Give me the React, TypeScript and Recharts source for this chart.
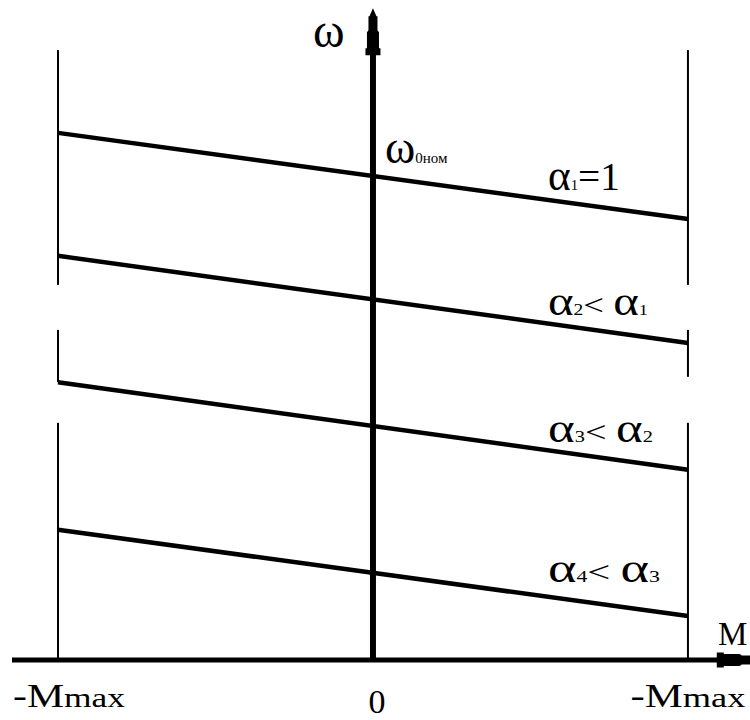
import React from 'react';
import { LineChart, Line, XAxis, YAxis, ReferenceLine, ReferenceDot } from 'recharts';

// Relative torque M / Mmax at the two limit lines
const torque = [-1, 1];
// Relative speed ω / ω0ном of each mechanical characteristic at those limits
const omegaA1 = [1.089, 0.911];
const omegaA2 = [0.835, 0.655];
const omegaA3 = [0.574, 0.393];
const omegaA4 = [0.269, 0.091];

const seriesKeys = ['a1', 'a2', 'a3', 'a4'];
const seriesValues = [omegaA1, omegaA2, omegaA3, omegaA4];

// Rich labels: [text, font size]
type Part = [string, number];
const seriesLabels: Part[][] = [
  [['α', 44], ['1', 15], ['=1', 40]],
  [['α', 40], ['2', 16], ['< ', 30], ['α', 40], ['1', 15]],
  [['α', 40], ['3', 16], ['< ', 30], ['α', 40], ['2', 16]],
  [['α', 40], ['4', 16], ['< ', 30], ['α', 40], ['3', 16]],
];
const seriesLabelWidth = [72, 100, 105, 112];
const seriesLabelLift = [10, 9, 9, 15];

const tickValues = [-1, 0, 1];
const tickLabels: Part[][] = [
  [['-M', 33], ['max', 28]],
  [['0', 34]],
  [['-M', 33], ['max', 28]],
];

const axisTitleY: Part[] = [['ω', 48]];
const axisTitleX: Part[] = [['M', 33]];
const nominalLabel: Part[] = [['ω', 46], ['0ном', 15]];

// Visible spans (ω / ω0ном) of the ±Mmax limit lines
const leftLimitSpans = [[0, 0.49], [0.574, 0.682], [0.775, 1.26]];
const rightLimitSpans = [[0, 0.49], [0.585, 0.682], [0.775, 1.26]];

const X_DOMAIN: [number, number] = [-1.146, 1.197];
const Y_DOMAIN: [number, number] = [0, 1.347];
const SERIF = "'Liberation Serif', 'Times New Roman', serif";

const rows = torque.map((m, i) => {
  const r: Record<string, number> = { m };
  seriesKeys.forEach((k, s) => (r[k] = seriesValues[s][i]));
  return r;
});

const valueAt = (vals: number[], m: number) =>
  vals[0] + ((vals[1] - vals[0]) * (m - torque[0])) / (torque[1] - torque[0]);

const Rich = ({ x, y, parts, anchor = 'start', width }: { x: number; y: number; parts: Part[]; anchor?: string; width?: number }) => (
  <text
    x={x}
    y={y}
    fill="#000"
    fontFamily={SERIF}
    textAnchor={anchor as any}
    textLength={width}
    lengthAdjust={width ? 'spacingAndGlyphs' : undefined}
  >
    {parts.map(([t, s], i) => (
      <tspan key={i} fontSize={s}>
        {t}
      </tspan>
    ))}
  </text>
);

const tickShift = [11, 4, 0];
const tickWidth = [112, undefined, 115];
const tickBaseline = [47, 53, 47];

const MTick = (props: any) => {
  const { x, y, payload } = props;
  const i = tickValues.indexOf(payload.value);
  if (i < 0) return null;
  return <Rich x={x + tickShift[i]} y={y + tickBaseline[i]} parts={tickLabels[i]} anchor="middle" width={tickWidth[i]} />;
};

const labelM = 0.562;

export default function App() {
  return (
    <div style={{ position: 'absolute', left: 0, top: 0, background: '#fff' }}>
      <svg width={0} height={0} style={{ position: 'absolute' }}>
        <defs>
          <marker id="axisArrow" markerUnits="userSpaceOnUse" orient="auto" refX={-10} refY={0} markerWidth={60} markerHeight={20} overflow="visible">
            <path
              d="M0,0 L-8,-3.5 L-8,-4.5 L-22,-4.5 L-24,-6 L-40,-6 L-40,-7.5 L-47,-7.5 L-47,7.5 L-40,7.5 L-40,6 L-24,6 L-22,4.5 L-8,4.5 L-8,3.5 Z"
              fill="#000"
            />
          </marker>
        </defs>
      </svg>
      <LineChart width={750} height={720} data={rows} margin={{ top: 8, right: 0, bottom: 0, left: 12 }}>
        <XAxis
          dataKey="m"
          type="number"
          domain={X_DOMAIN}
          allowDataOverflow
          ticks={tickValues}
          tick={<MTick />}
          tickLine={false}
          axisLine={false}
          tickSize={0}
          tickMargin={0}
          height={60}
          interval={0}
        />
        <YAxis type="number" domain={Y_DOMAIN} allowDataOverflow hide />

        {leftLimitSpans.map(([a, b], i) => (
          <ReferenceLine key={'l' + i} segment={[{ x: -1, y: a }, { x: -1, y: b }]} stroke="#000" strokeWidth={2} ifOverflow="visible" />
        ))}
        {rightLimitSpans.map(([a, b], i) => (
          <ReferenceLine key={'r' + i} segment={[{ x: 1, y: a }, { x: 1, y: b }]} stroke="#000" strokeWidth={2} ifOverflow="visible" />
        ))}

        {/* M axis */}
        <ReferenceLine
          segment={[{ x: X_DOMAIN[0], y: 0 }, { x: 1.209, y: 0 }]}
          stroke="#000"
          strokeWidth={5}
          markerEnd="url(#axisArrow)"
          ifOverflow="visible"
        />
        {/* ω axis */}
        <ReferenceLine
          segment={[{ x: 0, y: 0 }, { x: 0, y: 1.326 }]}
          stroke="#000"
          strokeWidth={6}
          markerEnd="url(#axisArrow)"
          ifOverflow="visible"
        />

        {seriesKeys.map((k) => (
          <Line key={k} dataKey={k} stroke="#000" strokeWidth={4.5} dot={false} activeDot={false} isAnimationActive={false} type="linear" />
        ))}

        {seriesKeys.map((k, s) => (
          <ReferenceDot
            key={'lab' + k}
            x={labelM}
            y={valueAt(seriesValues[s], labelM)}
            r={0}
            ifOverflow="visible"
            shape={(p: any) => (
              <Rich x={p.cx - 2} y={p.cy - seriesLabelLift[s]} parts={seriesLabels[s]} width={seriesLabelWidth[s]} />
            )}
          />
        ))}

        <ReferenceDot
          x={0}
          y={valueAt(omegaA1, 0)}
          r={0}
          ifOverflow="visible"
          shape={(p: any) => <Rich x={p.cx + 12} y={p.cy - 13} parts={nominalLabel} />}
        />
        <ReferenceDot
          x={0}
          y={Y_DOMAIN[1]}
          r={0}
          ifOverflow="visible"
          shape={(p: any) => <Rich x={p.cx - 60} y={p.cy + 39} parts={axisTitleY} />}
        />
        <ReferenceDot
          x={X_DOMAIN[1]}
          y={0}
          r={0}
          ifOverflow="visible"
          shape={(p: any) => <Rich x={p.cx - 32} y={p.cy - 15} parts={axisTitleX} />}
        />
      </LineChart>
    </div>
  );
}
